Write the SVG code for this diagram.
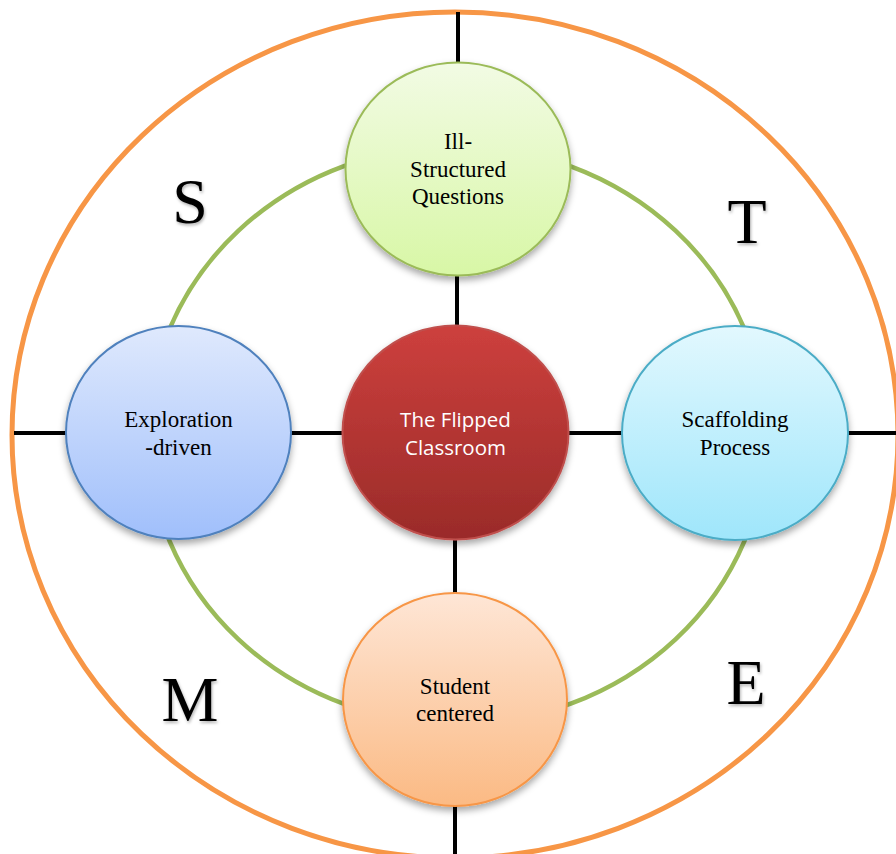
<svg xmlns="http://www.w3.org/2000/svg" width="896" height="854" viewBox="0 0 896 854">
<style>
.ring{fill:none}
.lbl{font-family:"Liberation Serif","Times New Roman",serif;font-size:23px;fill:#000;text-anchor:middle}
.lblw{font-family:"Open Sans","Liberation Sans",sans-serif;font-size:20.5px;fill:#fff;text-anchor:middle}
.big{font-family:"Liberation Serif","Times New Roman",serif;font-size:64px;fill:#000;text-anchor:middle}
.conn line{stroke:#000;stroke-width:4}
</style>
<defs>
<filter id="sh" x="-20%" y="-20%" width="140%" height="150%">
<feDropShadow dx="0" dy="4" stdDeviation="3.5" flood-color="#000" flood-opacity="0.35"/>
</filter>
<filter id="tsh" x="-20%" y="-20%" width="140%" height="140%">
<feDropShadow dx="1" dy="2" stdDeviation="1.5" flood-color="#000" flood-opacity="0.3"/>
</filter>
<linearGradient id="gGreen" x1="0" y1="0" x2="0" y2="1"><stop offset="0" stop-color="#f2fbe4"/><stop offset="1" stop-color="#d8f7a6"/></linearGradient>
<linearGradient id="gRed" x1="0" y1="0" x2="0" y2="1"><stop offset="0" stop-color="#cd403d"/><stop offset="1" stop-color="#9a2b29"/></linearGradient>
<linearGradient id="gCyan" x1="0" y1="0" x2="0" y2="1"><stop offset="0" stop-color="#e2f8fe"/><stop offset="1" stop-color="#9fe6fb"/></linearGradient>
<linearGradient id="gBlue" x1="0" y1="0" x2="0" y2="1"><stop offset="0" stop-color="#dfe9fd"/><stop offset="1" stop-color="#a0bffb"/></linearGradient>
<linearGradient id="gOrange" x1="0" y1="0" x2="0" y2="1"><stop offset="0" stop-color="#fee6d6"/><stop offset="1" stop-color="#fbba84"/></linearGradient>
</defs>
<rect width="896" height="854" fill="#fff"/>
<ellipse class="ring" cx="455" cy="435" rx="443" ry="423" stroke="#f79646" stroke-width="5"/>
<ellipse class="ring" cx="457" cy="435" rx="309" ry="289" stroke="#9bbb59" stroke-width="4.5"/>
<g id="connectors" class="conn">
<line x1="458" y1="12" x2="458" y2="64"/>
<line x1="457" y1="274" x2="457" y2="327"/>
<line x1="455" y1="538" x2="455" y2="595"/>
<line x1="455" y1="804" x2="455" y2="854"/>
<line x1="14" y1="433" x2="68" y2="433"/>
<line x1="289" y1="433" x2="344" y2="433"/>
<line x1="567" y1="433" x2="624" y2="433"/>
<line x1="846" y1="433" x2="896" y2="433"/>
</g>
<g id="node-top" filter="url(#sh)">
<ellipse cx="458" cy="169" rx="112.5" ry="106.5" fill="url(#gGreen)" stroke="#9bbb59" stroke-width="2"/>
</g>
<g id="node-top-text"><text class="lbl" x="458" y="148.5">Ill-</text><text class="lbl" x="458" y="176.5">Structured</text><text class="lbl" x="458" y="204">Questions</text></g>
<g id="node-center" filter="url(#sh)">
<ellipse cx="455.5" cy="432.5" rx="113" ry="107" fill="url(#gRed)" stroke="#c0504d" stroke-width="2"/>
</g>
<g id="node-center-text"><text class="lblw" x="455.5" y="427">The Flipped</text><text class="lblw" x="455.5" y="455">Classroom</text></g>
<g id="node-left" filter="url(#sh)">
<ellipse cx="178.5" cy="432.5" rx="112.5" ry="106.5" fill="url(#gBlue)" stroke="#4f81bd" stroke-width="2"/>
</g>
<g id="node-left-text"><text class="lbl" x="178.5" y="427">Exploration</text><text class="lbl" x="178.5" y="454.5">-driven</text></g>
<g id="node-right" filter="url(#sh)">
<ellipse cx="735" cy="433" rx="113" ry="107" fill="url(#gCyan)" stroke="#4bacc6" stroke-width="2"/>
</g>
<g id="node-right-text"><text class="lbl" x="735" y="427">Scaffolding</text><text class="lbl" x="735" y="454.5">Process</text></g>
<g id="node-bottom" filter="url(#sh)">
<ellipse cx="455" cy="699.5" rx="112" ry="106.5" fill="url(#gOrange)" stroke="#f79646" stroke-width="2"/>
</g>
<g id="node-bottom-text"><text class="lbl" x="455" y="693.5">Student</text><text class="lbl" x="455" y="721">centered</text></g>
<g id="letters" filter="url(#tsh)">
<text class="big" x="190" y="223">S</text>
<text class="big" x="747" y="243">T</text>
<text class="big" x="190" y="721">M</text>
<text class="big" x="746" y="704">E</text>
</g>
</svg>
